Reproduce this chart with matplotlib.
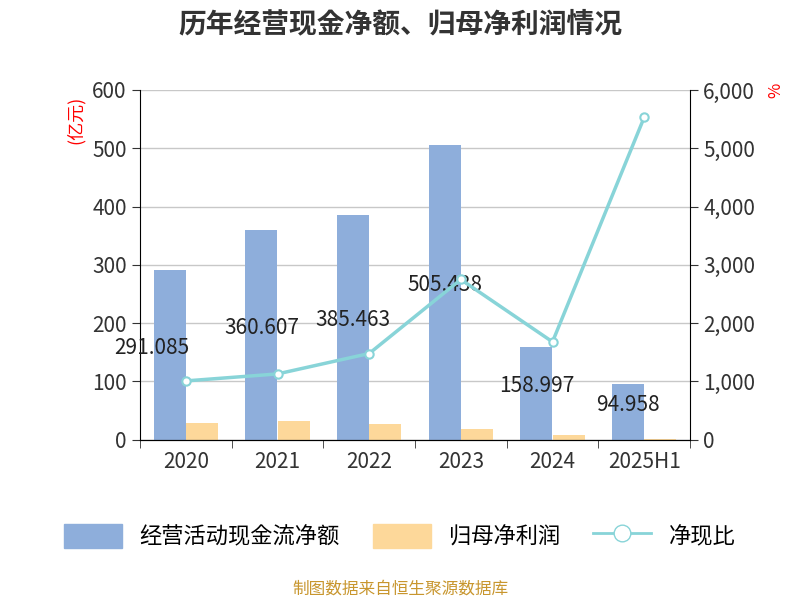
import matplotlib
matplotlib.use("Agg")
import matplotlib.pyplot as plt
import numpy as np
import glob
from matplotlib import font_manager
from matplotlib.ticker import FuncFormatter
from matplotlib.lines import Line2D
from matplotlib.patches import Patch

for f in glob.glob('/usr/share/fonts/**/*CJK*', recursive=True) + glob.glob('/usr/share/fonts/**/*Noto*CJK*', recursive=True):
    try:
        font_manager.fontManager.addfont(f)
    except Exception:
        pass
names = {f.name for f in font_manager.fontManager.ttflist}
cjk = [n for n in ['Noto Sans CJK SC', 'Noto Sans CJK JP', 'Noto Sans SC', 'Noto Sans CJK TC'] if n in names]
plt.rcParams['font.family'] = cjk + ['DejaVu Sans']

categories = ["2020", "2021", "2022", "2023", "2024", "2025H1"]
cash_flow = [291.085, 360.607, 385.463, 505.438, 158.997, 94.958]
net_profit = [29, 33, 27, 19, 9, 2]
ratio = [1010, 1130, 1480, 2750, 1680, 5530]
labels = ["291.085", "360.607", "385.463", "505.438", "158.997", "94.958"]

fig = plt.figure(figsize=(8, 6), dpi=100)
ax = fig.add_axes([0.175, 0.267, 0.6875, 0.583])
x = np.arange(len(categories))
w = 0.35
ax.bar(x - w/2, cash_flow, w, color="#8eaedb", zorder=2)
ax.bar(x + w/2, net_profit, w, color="#fdd89a", zorder=2)
ax.set_ylim(0, 600)
ax.set_xlim(-0.5, len(categories) - 0.5)
ax.set_yticks(range(0, 601, 100))
ax.grid(axis='y', color='#c8c8c8', lw=1, zorder=0)
ax.set_xticks(x)
ax.set_xticklabels(categories)
ax.set_xticks(np.arange(-0.5, len(categories)), minor=True)
ax.tick_params(axis='x', which='major', length=0, labelsize=15, colors='#333333', pad=8)
ax.tick_params(axis='x', which='minor', length=6, color='#333333')
ax.tick_params(axis='y', labelsize=15, colors='#333333', length=6)
for s in ['top', 'right']:
    ax.spines[s].set_visible(False)
for i, (v, t) in enumerate(zip(cash_flow, labels)):
    ax.text(x[i] - w/2 - (0.2 if i == 0 else 0), v / 2 + 12, t, ha='center', va='center', fontsize=15, color='#222222', zorder=5)

ax2 = ax.twinx()
ax2.plot(x, ratio, color="#88d4d8", lw=2.5, marker='o', markersize=6,
         markerfacecolor='white', markeredgecolor="#88d4d8", markeredgewidth=1.5, zorder=4)
ax2.set_ylim(0, 6000)
ax2.set_yticks(range(0, 6001, 1000))
ax2.yaxis.set_major_formatter(FuncFormatter(lambda v, p: f"{int(v):,}"))
ax2.tick_params(axis='y', labelsize=15, colors='#333333', length=6)
for s in ['top', 'left']:
    ax2.spines[s].set_visible(False)

fig.text(0.5, 0.96, "历年经营现金净额、归母净利润情况", ha='center', va='center', fontsize=20, fontweight='bold', color='#333333')
fig.text(0.095, 0.80, "(亿元)", rotation=90, ha='center', va='center', fontsize=13, color='red')
fig.text(0.97, 0.85, "%", rotation=90, ha='center', va='center', fontsize=12, color='red')

handles = [Patch(color="#8eaedb"), Patch(color="#fdd89a"),
           Line2D([0], [0], color="#88d4d8", lw=2, marker='o', markersize=12, markerfacecolor='white', markeredgecolor="#88d4d8")]
fig.legend(handles, ["经营活动现金流净额", "归母净利润", "净现比"], loc='center', bbox_to_anchor=(0.5, 0.107),
           ncol=3, frameon=False, fontsize=16, handlelength=2.6, handleheight=1.3, columnspacing=1.5)
fig.text(0.5, 0.018, "制图数据来自恒生聚源数据库", ha='center', va='center', fontsize=12, color='#c8962e')
fig.savefig("out.png", dpi=100)
